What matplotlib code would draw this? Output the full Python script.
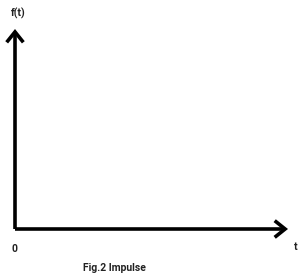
import matplotlib
matplotlib.use("Agg")
import matplotlib.pyplot as plt

# axis corner and arrow tips (pixel coordinates of the sketch)
origin = (15, 229)
y_tip = (15, 29)
x_tip = (288, 229)

labels = {"f(t)": (18, 13), "0": (15, 249), "t": (296, 247), "Fig.2 Impulse": (114, 268)}

fig = plt.figure(figsize=(2.99, 2.78), dpi=100)
ax = fig.add_axes([0, 0, 1, 1])
ax.set_xlim(0, 299)
ax.set_ylim(278, 0)
ax.axis("off")

arrow = dict(arrowstyle="->,head_length=0.75,head_width=0.6", lw=2.6, color="black",
             shrinkA=0, shrinkB=0, joinstyle="miter", capstyle="butt")
ax.annotate("", xy=y_tip, xytext=origin, arrowprops=arrow)
ax.annotate("", xy=x_tip, xytext=origin, arrowprops=arrow)

for txt, (x, y) in labels.items():
    ax.text(x, y, txt, ha="center", va="center", fontsize=7.5, fontweight="bold",
            family="Roboto", color="#222222")

fig.savefig("out.png", dpi=100)
